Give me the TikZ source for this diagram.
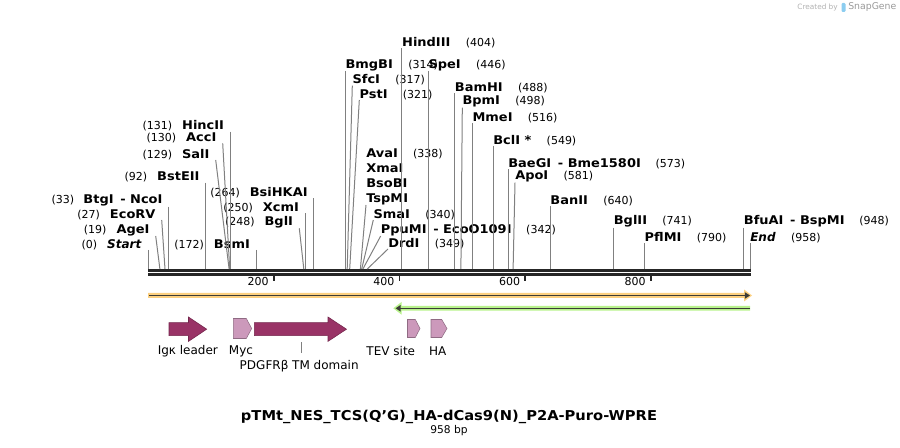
\documentclass[tikz,border=0pt]{standalone}
\usepackage{fontspec}
\setmainfont{DejaVu Sans}[BoldFeatures={FakeStretch=1.08}]
\usetikzlibrary{arrows.meta, calc}

\definecolor{featdark}{RGB}{153,51,102}
\definecolor{featlight}{RGB}{204,153,187}
\definecolor{orangeband}{RGB}{252,208,128}
\definecolor{greenband}{RGB}{184,242,140}
\definecolor{bandline}{RGB}{60,60,55}
\definecolor{sitegray}{RGB}{128,128,128}
\definecolor{snapblue}{RGB}{140,205,240}

\newcommand{\bpn}[1]{{\fontsize{8.25}{10}\selectfont(#1)}}

\tikzset{
  siteline/.style={draw=sitegray, line width=0.75pt},
  rlbl/.style={anchor=south west, inner sep=0pt, align=left, font=\fontsize{9}{11.25}\selectfont},
  llbl/.style={anchor=south east, inner xsep=4.5pt, inner ysep=0pt, font=\fontsize{9}{11.25}\selectfont},
  featlbl/.style={inner sep=0pt, font=\fontsize{9}{11}\selectfont},
  rulerlbl/.style={anchor=east, inner sep=0pt, font=\fontsize{8.25}{10}\selectfont},
  bigfeat/.style={fill=featdark, draw=featdark!75!black, line width=0.4pt},
  smallfeat/.style={fill=featlight, draw=featlight!70!black, line width=0.4pt},
}

\begin{document}
\begin{tikzpicture}[x=0.75pt, y=-0.75pt]
    \useasboundingbox (0,0) rectangle (900,448);

    % Backbone and ruler
    \coordinate (bbL) at (148,270.3);
    \coordinate (bbR) at (751,270.3);
    \draw[line width=1.9pt, black!85] (bbL) -- (bbR);
    \draw[line width=1.9pt, black!85] ([yshift=-3.15pt]bbL) -- ([yshift=-3.15pt]bbR);
    \draw[line width=1.3pt, black!85] (273.7,275.5) -- (273.7,281);
    \draw[line width=1.3pt, black!85] (399.4,275.5) -- (399.4,281);
    \draw[line width=1.3pt, black!85] (525.0,275.5) -- (525.0,281);
    \draw[line width=1.3pt, black!85] (650.7,275.5) -- (650.7,281);
    \node[rulerlbl] (r200) at (269.0,281) {200};
    \node[rulerlbl] (r400) at (394.7,281) {400};
    \node[rulerlbl] (r600) at (520.3,281) {600};
    \node[rulerlbl] (r800) at (646.0,281) {800};

    % Cut sites on the backbone
    \coordinate (s0) at (148.0,269);   \coordinate (s19) at (159.9,269);
    \coordinate (s27) at (165.0,269);  \coordinate (s33) at (168.7,269);
    \coordinate (s92) at (205.8,269);  \coordinate (s129) at (229.1,269);
    \coordinate (s130) at (229.7,269); \coordinate (s131) at (230.3,269);
    \coordinate (s172) at (256.1,269); \coordinate (s248) at (303.8,269);
    \coordinate (s250) at (305.1,269); \coordinate (s264) at (313.9,269);
    \coordinate (s314) at (345.3,269); \coordinate (s317) at (347.2,269);
    \coordinate (s321) at (349.7,269); \coordinate (s338) at (360.4,269);
    \coordinate (s340) at (361.7,269); \coordinate (s342) at (362.9,269);
    \coordinate (s349) at (367.3,269); \coordinate (s404) at (401.9,269);
    \coordinate (s446) at (428.3,269); \coordinate (s488) at (454.7,269);
    \coordinate (s498) at (460.9,269); \coordinate (s516) at (472.3,269);
    \coordinate (s549) at (493.0,269); \coordinate (s573) at (508.1,269);
    \coordinate (s581) at (513.1,269); \coordinate (s640) at (550.2,269);
    \coordinate (s741) at (613.6,269); \coordinate (s790) at (644.4,269);
    \coordinate (s948) at (743.7,269); \coordinate (s958) at (750.0,269);

    % Enzyme labels, number on the left
    \node[llbl] (hinc) at (230.3,131.7) {\bpn{131}\hspace{7.5pt}\textbf{HincII}};
    \node[llbl] (acc) at (222.7,143.3) {\bpn{130}\hspace{7.5pt}\textbf{AccI}};
    \node[llbl] (sal) at (215.7,160) {\bpn{129}\hspace{7.5pt}\textbf{SalI}};
    \node[llbl] (bste) at (205.8,182.7) {\bpn{92}\hspace{7.5pt}\textbf{BstEII}};
    \node[llbl] (btg) at (168.7,206.7) {\bpn{33}\hspace{7pt}\textbf{BtgI}\hspace{5pt}\textbf{- NcoI}};
    \node[llbl] (ecorv) at (161.7,220) {\bpn{27}\hspace{7.5pt}\textbf{EcoRV}};
    \node[llbl] (age) at (155.7,236) {\bpn{19}\hspace{7.5pt}\textbf{AgeI}};
    \node[llbl] (startl) at (148,250) {\bpn{0}\hspace{7.5pt}\textbf{\textit{Start}}};
    \node[llbl] (bsm) at (256.1,250) {\bpn{172}\hspace{7.5pt}\textbf{BsmI}};
    \node[llbl] (bsihk) at (313.9,198.3) {\bpn{264}\hspace{7.5pt}\textbf{BsiHKAI}};
    \node[llbl] (xcm) at (305.1,213.3) {\bpn{250}\hspace{7.5pt}\textbf{XcmI}};
    \node[llbl] (bgl) at (299.3,228.3) {\bpn{248}\hspace{7.5pt}\textbf{BglI}};

    % Enzyme labels, number on the right
    \node[rlbl] (hind) at (401.9,48.3) {\textbf{HindIII}\hspace{11.5pt}\bpn{404}};
    \node[rlbl] (bmgb) at (345.3,71) {\textbf{BmgBI}\hspace{11.5pt}\bpn{314}};
    \node[rlbl] (spe) at (428.3,71) {\textbf{SpeI}\hspace{11.5pt}\bpn{446}};
    \node[rlbl] (sfc) at (352.3,85.7) {\textbf{SfcI}\hspace{11.5pt}\bpn{317}};
    \node[rlbl] (pst) at (359.3,100) {\textbf{PstI}\hspace{11.5pt}\bpn{321}};
    \node[rlbl] (bamh) at (454.7,93.3) {\textbf{BamHI}\hspace{11.5pt}\bpn{488}};
    \node[rlbl] (bpm) at (462.3,107.7) {\textbf{BpmI}\hspace{11.5pt}\bpn{498}};
    \node[rlbl] (mme) at (472.3,123.3) {\textbf{MmeI}\hspace{11.5pt}\bpn{516}};
    \node[rlbl] (bcl) at (493.0,146) {\textbf{BclI *}\hspace{11.5pt}\bpn{549}};
    \node[rlbl] (ava) at (366,205) {\textbf{AvaI}\hspace{11.5pt}\bpn{338}\\ \textbf{XmaI}\\ \textbf{BsoBI}\\ \textbf{TspMI}};
    \node[rlbl] (sma) at (373.3,220) {\textbf{SmaI}\hspace{11.5pt}\bpn{340}};
    \node[rlbl] (ppum) at (380.7,236) {\textbf{PpuMI}\hspace{5pt}\textbf{- EcoO109I}\hspace{11pt}\bpn{342}};
    \node[rlbl] (drd) at (388,249) {\textbf{DrdI}\hspace{11.5pt}\bpn{349}};
    \node[rlbl] (baeg) at (508.1,169.3) {\textbf{BaeGI}\hspace{5pt}\textbf{- Bme1580I}\hspace{11pt}\bpn{573}};
    \node[rlbl] (apo) at (515,182.7) {\textbf{ApoI}\hspace{11.5pt}\bpn{581}};
    \node[rlbl] (ban) at (550.2,206) {\textbf{BanII}\hspace{11.5pt}\bpn{640}};
    \node[rlbl] (bglii) at (613.6,227.7) {\textbf{BglII}\hspace{11.5pt}\bpn{741}};
    \node[rlbl] (pflm) at (644.4,243.3) {\textbf{PflMI}\hspace{11.5pt}\bpn{790}};
    \node[rlbl] (bfua) at (743.7,227.7) {\textbf{BfuAI}\hspace{5pt}\textbf{- BspMI}\hspace{11pt}\bpn{948}};
    \node[rlbl] (endl) at (750,243.3) {\textbf{\textit{End}}\hspace{11.5pt}\bpn{958}};

    % Lines from labels to their sites
    \draw[siteline] (hinc.south east) -- (s131);
    \draw[siteline] (acc.south east) -- (s130);
    \draw[siteline] (sal.south east) -- (s129);
    \draw[siteline] (bste.south east) -- (s92);
    \draw[siteline] (btg.south east) -- (s33);
    \draw[siteline] (ecorv.south east) -- (s27);
    \draw[siteline] (age.south east) -- (s19);
    \draw[siteline] (startl.south east) -- (s0);
    \draw[siteline] (bsm.south east) -- (s172);
    \draw[siteline] (bsihk.south east) -- (s264);
    \draw[siteline] (xcm.south east) -- (s250);
    \draw[siteline] (bgl.south east) -- (s248);
    \draw[siteline] (hind.south west) -- (s404);
    \draw[siteline] (bmgb.south west) -- (s314);
    \draw[siteline] (spe.south west) -- (s446);
    \draw[siteline] (sfc.south west) -- (s317);
    \draw[siteline] (pst.south west) -- (s321);
    \draw[siteline] (bamh.south west) -- (s488);
    \draw[siteline] (bpm.south west) -- (s498);
    \draw[siteline] (mme.south west) -- (s516);
    \draw[siteline] (bcl.south west) -- (s549);
    \draw[siteline] (ava.south west) -- (s338);
    \draw[siteline] (sma.south west) -- (s340);
    \draw[siteline] (ppum.south west) -- (s342);
    \draw[siteline] (drd.south west) -- (s349);
    \draw[siteline] (baeg.south west) -- (s573);
    \draw[siteline] (apo.south west) -- (s581);
    \draw[siteline] (ban.south west) -- (s640);
    \draw[siteline] (bglii.south west) -- (s741);
    \draw[siteline] (pflm.south west) -- (s790);
    \draw[siteline] (bfua.south west) -- (s948);
    \draw[siteline] (endl.south west) -- (s958);

    % Orange (forward) and green (reverse) spans
    \fill[orangeband] (148,293) -- (744,293) -- (744,289.5) -- (752,295.5)
        -- (744,301.5) -- (744,298) -- (148,298) -- cycle;
    \draw[bandline, line width=1.1pt, -{Triangle[length=3.8pt, width=4.6pt]}]
        (149,295.5) -- (750,295.5);
    \fill[greenband] (750,306) -- (401.5,306) -- (401.5,302) -- (393.3,308.3)
        -- (401.5,314.6) -- (401.5,310.6) -- (750,310.6) -- cycle;
    \draw[bandline, line width=1.1pt, -{Triangle[length=3.8pt, width=4.6pt]}]
        (750,308.3) -- (395.5,308.3);

    % Features
    \draw[bigfeat] (169,322.7) -- (188.5,322.7) -- (188.5,317) -- (206.7,329.2)
        -- (188.5,341.4) -- (188.5,335.7) -- (169,335.7) -- cycle;
    \draw[smallfeat] (233.3,318.5) -- (246.3,318.5) -- (251.7,328.5)
        -- (246.3,338.5) -- (233.3,338.5) -- cycle;
    \draw[bigfeat] (254.3,322.7) -- (328,322.7) -- (328,317) -- (346.5,329.2)
        -- (328,341.4) -- (328,335.7) -- (254.3,335.7) -- cycle;
    \draw[smallfeat] (407.5,319.5) -- (415.3,319.5) -- (420,328.5)
        -- (415.3,337.5) -- (407.5,337.5) -- cycle;
    \draw[smallfeat] (431,319.5) -- (441.7,319.5) -- (447,328.5)
        -- (441.7,337.5) -- (431,337.5) -- cycle;

    \node[featlbl] (ligk) at (187.8,351) {Igκ leader};
    \node[featlbl] (lmyc) at (241,351) {Myc};
    \node[featlbl] (lpdgf) at (299.2,366) {PDGFRβ TM domain};
    \node[featlbl] (ltev) at (390.8,351) {TEV site};
    \node[featlbl] (lha) at (437.7,351) {HA};
    \coordinate (pdgfbot) at (301,342.5);
    \draw[siteline, shorten >=5.25pt] (pdgfbot) -- (pdgfbot |- lpdgf.north);

    % Title
    \node[font=\bfseries\fontsize{10.2}{12}\selectfont] (title) at (449,417)
        {pTMt\_NES\_TCS(Q’G)\_HA-dCas9(N)\_P2A-Puro-WPRE};
    \node[font=\fontsize{8}{10}\selectfont] (size) at (449,431) {958 bp};

    % Corner credit
    \node[anchor=east, inner sep=0pt, text=black!30, font=\fontsize{5.5}{6}\selectfont]
        (credit) at (838,7.5) {Created by};
    \fill[snapblue, rounded corners=0.8pt] (841.5,3) rectangle (845.5,12);
    \node[anchor=west, inner sep=0pt, text=black!40, font=\fontsize{7}{8}\selectfont]
        (snapg) at (848,7.5) {SnapGene};

\end{tikzpicture}
\end{document}
